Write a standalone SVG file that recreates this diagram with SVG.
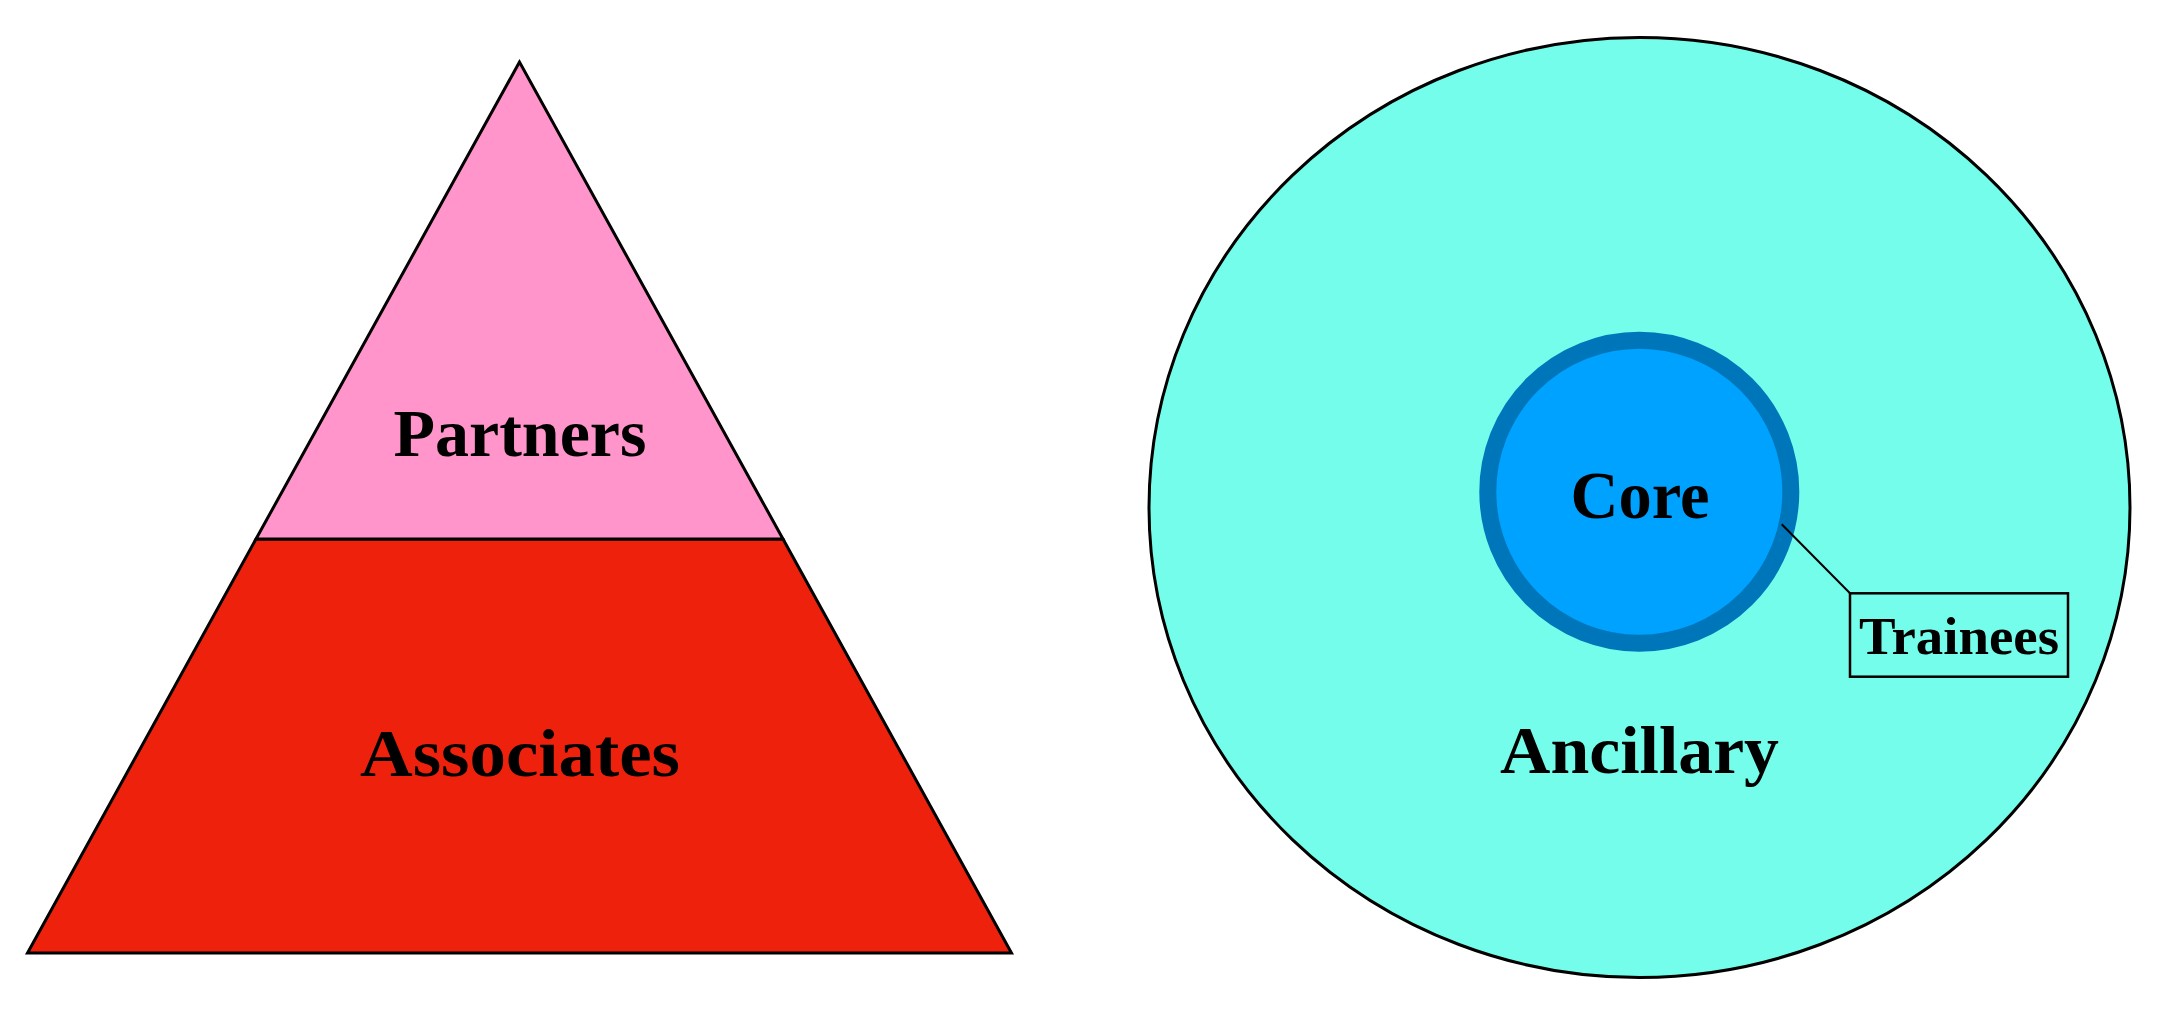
<svg xmlns="http://www.w3.org/2000/svg" width="2160" height="1012" viewBox="0 0 2160 1012">
<style>
.lbl{font-family:"Liberation Serif","DejaVu Serif",serif;font-weight:bold;fill:#000;text-anchor:middle}
.big{font-size:68px}
.small{font-size:52px}
.edge{stroke:#000;stroke-width:3;stroke-linejoin:miter}
</style>
<rect width="2160" height="1012" fill="#fff"/>
<g id="associates">
<polygon class="edge" points="256,539 783,539 1011.5,953 27.5,953" fill="#EE220C"/>
<text class="lbl big" x="520" y="776" textLength="320" lengthAdjust="spacingAndGlyphs">Associates</text>
</g>
<g id="partners">
<polygon class="edge" points="519.5,62 256,539 783,539" fill="#FF95CA"/>
<text class="lbl big" x="520" y="456" textLength="253" lengthAdjust="spacingAndGlyphs">Partners</text>
</g>
<g id="ancillary">
<ellipse cx="1639.5" cy="507.5" rx="490.5" ry="470" fill="#73FDEA" stroke="#000" stroke-width="3"/>
<text class="lbl big" x="1639.5" y="773" textLength="279" lengthAdjust="spacingAndGlyphs">Ancillary</text>
</g>
<g id="core">
<circle cx="1639.3" cy="491.7" r="151.5" fill="#00A2FF" stroke="#0076BA" stroke-width="17"/>
<text class="lbl big" x="1640" y="518" textLength="139" lengthAdjust="spacingAndGlyphs">Core</text>
</g>
<g id="connectors">
<line x1="1781.7" y1="524.3" x2="1850" y2="593.3" stroke="#000" stroke-width="2"/>
</g>
<g id="trainees">
<rect x="1850" y="593.3" width="218" height="83.4" fill="none" stroke="#000" stroke-width="2.5"/>
<text class="lbl small" x="1959" y="654" textLength="200" lengthAdjust="spacingAndGlyphs">Trainees</text>
</g>
</svg>
